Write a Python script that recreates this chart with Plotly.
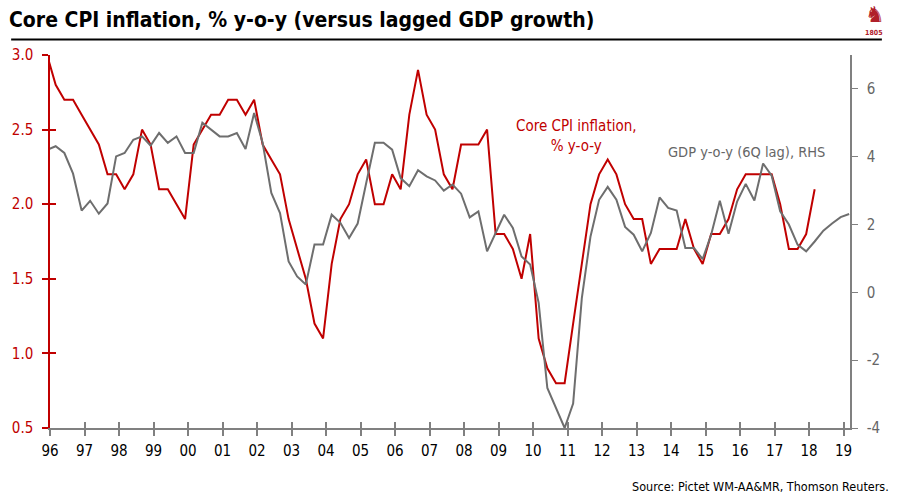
import pandas as pd
import plotly.graph_objects as go

# ---------------- data (quarterly, Dec 1995 onward) ----------------
core_cpi = [3.0,
            2.8, 2.7, 2.7, 2.6,
            2.5, 2.4, 2.2, 2.2,
            2.1, 2.2, 2.5, 2.4,
            2.1, 2.1, 2.0, 1.9,
            2.4, 2.5, 2.6, 2.6,
            2.7, 2.7, 2.6, 2.7,
            2.4, 2.3, 2.2, 1.9,
            1.7, 1.5, 1.2, 1.1,
            1.6, 1.9, 2.0, 2.2,
            2.3, 2.0, 2.0, 2.2,
            2.1, 2.6, 2.9, 2.6,
            2.5, 2.2, 2.1, 2.4,
            2.4, 2.4, 2.5, 1.8,
            1.8, 1.7, 1.5, 1.8,
            1.1, 0.9, 0.8, 0.8,
            1.2, 1.6, 2.0, 2.2,
            2.3, 2.2, 2.0, 1.9,
            1.9, 1.6, 1.7, 1.7,
            1.7, 1.9, 1.7, 1.6,
            1.8, 1.8, 1.9, 2.1,
            2.2, 2.2, 2.2, 2.2,
            2.0, 1.7, 1.7, 1.8,
            2.1]

gdp_lagged = [4.2,
              4.31, 4.11, 3.50, 2.41,
              2.70, 2.32, 2.62, 4.01,
              4.11, 4.50, 4.60, 4.33,
              4.70, 4.41, 4.60, 4.11,
              4.11, 5.00, 4.80, 4.60,
              4.60, 4.70, 4.23, 5.29,
              4.41, 2.93, 2.34, 0.91,
              0.47, 0.23, 1.41, 1.41,
              2.29, 2.05, 1.60, 2.03,
              3.22, 4.41, 4.41, 4.21,
              3.37, 3.13, 3.60, 3.42,
              3.30, 3.00, 3.18, 2.91,
              2.21, 2.39, 1.21, 1.73,
              2.29, 1.90, 1.06, 0.82,
              -0.31, -2.82, -3.41, -4.0,
              -3.28, -0.17, 1.65, 2.73,
              3.11, 2.73, 1.93, 1.70,
              1.21, 1.75, 2.80, 2.49,
              2.41, 1.31, 1.31, 0.98,
              1.70, 2.70, 1.73, 2.68,
              3.20, 2.71, 3.80, 3.44,
              2.39, 2.00, 1.41, 1.21,
              1.50, 1.82, 2.03, 2.22,
              2.31]

tick_years = list(range(1996, 2020))
tick_labels = ["96", "97", "98", "99", "00", "01", "02", "03", "04", "05", "06", "07",
               "08", "09", "10", "11", "12", "13", "14", "15", "16", "17", "18", "19"]
left_ticks = [0.5, 1.0, 1.5, 2.0, 2.5, 3.0]
left_labels = ["0.5", "1.0", "1.5", "2.0", "2.5", "3.0"]
right_ticks = [-4, -2, 0, 2, 4, 6]
right_labels = ["-4", "-2", "0", "2", "4", "6"]

dates_cpi = pd.date_range("1995-12-01", periods=len(core_cpi), freq="3MS")
dates_gdp = pd.date_range("1995-12-01", periods=len(gdp_lagged), freq="3MS")
tick_vals = [pd.Timestamp(f"{y}-01-01") for y in tick_years]

RED = "#C00000"
GREY = "#6E6E6E"
AXGREY = "#808080"
FONT = "Liberation Sans Narrow, DejaVu Sans Condensed, Arial Narrow, sans-serif"

x_range = ["1996-01-01", "2019-03-10"]

fig = go.Figure()
fig.add_trace(go.Scatter(x=dates_gdp, y=gdp_lagged, mode="lines", yaxis="y2",
                         line=dict(color=GREY, width=2), name="GDP y-o-y (6Q lag), RHS"))
fig.add_trace(go.Scatter(x=dates_cpi, y=core_cpi, mode="lines", yaxis="y",
                         line=dict(color=RED, width=2), name="Core CPI inflation, % y-o-y"))

fig.update_layout(
    width=899, height=501,
    margin=dict(l=47, r=49, t=55, b=73),
    paper_bgcolor="white", plot_bgcolor="white",
    showlegend=False,
    font=dict(family=FONT, size=14, color="#000"),
    xaxis=dict(type="date", range=x_range, tickvals=tick_vals, ticktext=tick_labels,
               showgrid=False, zeroline=False, showline=True, linecolor=AXGREY, linewidth=1.5,
               ticks="outside", ticklen=6, tickcolor=AXGREY, tickwidth=1.5,
               tickfont=dict(family=FONT, size=15, color="#000"), ticklabelstandoff=2),
    xaxis2=dict(type="date", range=x_range, tickvals=tick_vals, overlaying="x",
                anchor="y", showticklabels=False, showgrid=False, zeroline=False,
                showline=False, ticks="inside", ticklen=6, tickcolor=AXGREY, tickwidth=1.5),
    yaxis=dict(range=[0.5, 3.0], tickvals=left_ticks, ticktext=left_labels,
               showgrid=False, zeroline=False, showline=True, linecolor=RED, linewidth=1.5,
               ticks="outside", ticklen=6, tickcolor=RED, tickwidth=1.5,
               tickfont=dict(family=FONT, size=15, color=RED), ticklabelstandoff=6),
    yaxis2=dict(range=[-4, 7], tickvals=right_ticks, ticktext=right_labels,
                overlaying="y", side="right",
                showgrid=False, zeroline=False, showline=True, linecolor=AXGREY, linewidth=1.5,
                ticks="outside", ticklen=6, tickcolor=AXGREY, tickwidth=1,
                tickfont=dict(family=FONT, size=15, color="#666666"), ticklabelstandoff=6,
                anchor="x"),
    yaxis3=dict(range=[0.5, 3.0], tickvals=left_ticks, overlaying="y",
                side="left", showticklabels=False, showgrid=False, zeroline=False,
                showline=False, ticks="inside", ticklen=6, tickcolor=RED, tickwidth=1.5),
    title=dict(text="<b>Core CPI inflation, % y-o-y (versus lagged GDP growth)</b>",
               x=9 / 899, xanchor="left", xref="container",
               y=1 - 20 / 501, yanchor="middle", yref="container",
               font=dict(family=FONT, size=21, color="#000")),
)

# invisible helper trace so overlay axes render
fig.add_trace(go.Scatter(x=[dates_cpi[1]], y=[core_cpi[1]], xaxis="x2", yaxis="y3",
                         mode="markers", marker=dict(opacity=0), hoverinfo="skip"))

# title underline
fig.add_shape(type="line", xref="paper", yref="paper",
              x0=(8 - 47) / 803, x1=(882 - 47) / 803,
              y0=(428 - 39.5) / 373, y1=(428 - 39.5) / 373,
              line=dict(color="#000", width=2))

# logo
fig.add_annotation(text="♞", xref="paper", yref="paper",
                   x=(875 - 47) / 803, xanchor="center",
                   y=(428 - 15) / 373, yanchor="middle", showarrow=False,
                   font=dict(family="DejaVu Sans", size=22, color="#B0202A"))
fig.add_annotation(text="<b>1805</b>", xref="paper", yref="paper",
                   x=(874 - 47) / 803, xanchor="center",
                   y=(428 - 33) / 373, yanchor="middle", showarrow=False,
                   font=dict(family=FONT, size=7, color="#B0202A"))

# series labels
fig.add_annotation(text="Core CPI inflation,<br>% y-o-y", xref="paper", yref="paper",
                   x=(575 - 47) / 803, xanchor="center",
                   y=(428 - 136) / 373, yanchor="middle", showarrow=False,
                   font=dict(family=FONT, size=15, color=RED), align="center")
fig.add_annotation(text="GDP y-o-y (6Q lag), RHS", xref="paper", yref="paper",
                   x=(665 - 47) / 803, xanchor="left",
                   y=(428 - 152) / 373, yanchor="middle", showarrow=False,
                   font=dict(family=FONT, size=14.5, color="#666666"))

# source
fig.add_annotation(text="Source: Pictet WM-AA&MR, Thomson Reuters.", xref="paper", yref="paper",
                   x=(891 - 47) / 803, xanchor="right",
                   y=(428 - 487) / 373, yanchor="middle",
                   showarrow=False, font=dict(family=FONT, size=12.5, color="#000"))

fig.write_html("out.html")
